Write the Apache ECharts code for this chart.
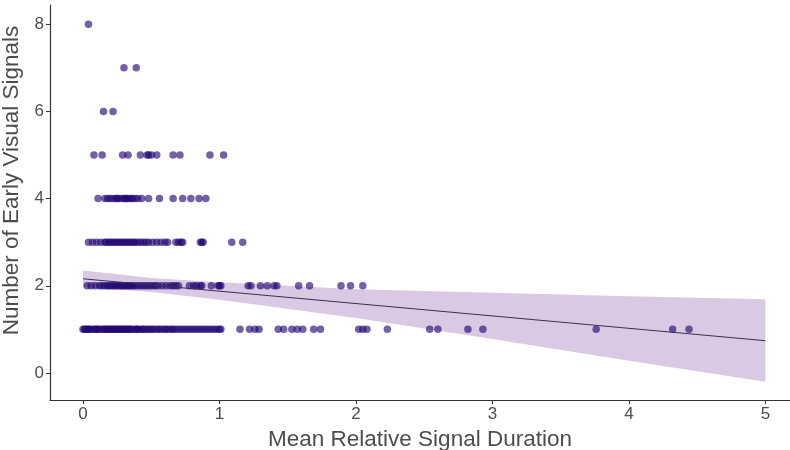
<!DOCTYPE html>
<html>
<head>
    <meta charset="utf-8">
    <title>Early visual signals</title>
    <script src="https://cdn.jsdelivr.net/npm/echarts@6/dist/echarts.min.js"></script>
</head>
<body style="margin:0;background:#fff;">
<style type="text/css">
.chart_box{width: 790px; height: 450px;}
</style>
    <div class="chart_box" id="main"></div>
    <script type="text/javascript">
        // x positions of the points, one list per count of early visual signals
        var row1 = [0.00, 0.01, 0.02, 0.03, 0.04, 0.05, 0.06, 0.08, 0.09, 0.10, 0.11, 0.12, 0.14, 0.15, 0.16, 0.17,
                    0.18, 0.19, 0.20, 0.21, 0.22, 0.23, 0.24, 0.25, 0.26, 0.27, 0.28, 0.29, 0.30, 0.31, 0.32, 0.33,
                    0.34, 0.35, 0.36, 0.38, 0.39, 0.40, 0.41, 0.43, 0.44, 0.45, 0.47, 0.48, 0.50, 0.51, 0.53, 0.55,
                    0.56, 0.58, 0.60, 0.61, 0.63, 0.65, 0.66, 0.68, 0.70, 0.72, 0.74, 0.76, 0.78, 0.80, 0.82, 0.84,
                    0.86, 0.88, 0.90, 0.92, 0.94, 0.96, 0.98, 1.00, 1.01,
                    1.15, 1.22, 1.26, 1.29, 1.43, 1.47, 1.53, 1.57, 1.61, 1.69, 1.74, 2.02, 2.05, 2.08, 2.23,
                    2.54, 2.60, 2.82, 2.93, 3.76, 4.32, 4.44];
        var row2 = [0.03, 0.06, 0.09, 0.12, 0.14, 0.16, 0.18, 0.19, 0.21, 0.22, 0.24, 0.25, 0.27, 0.28, 0.30, 0.31,
                    0.33, 0.34, 0.36, 0.37, 0.39, 0.41, 0.43, 0.45, 0.47, 0.49, 0.51, 0.53, 0.55, 0.58, 0.61, 0.64,
                    0.66, 0.68, 0.70, 0.78, 0.81, 0.83, 0.86, 0.87, 0.94, 0.99, 1.00, 1.01, 1.21, 1.23, 1.30, 1.35,
                    1.40, 1.42, 1.58, 1.66, 1.89, 1.96, 2.05];
        var row3 = [0.04, 0.07, 0.10, 0.13, 0.16, 0.17, 0.19, 0.20, 0.22, 0.23, 0.25, 0.26, 0.28, 0.29, 0.31, 0.32,
                    0.34, 0.35, 0.37, 0.38, 0.40, 0.42, 0.44, 0.46, 0.48, 0.51, 0.54, 0.57, 0.60, 0.62, 0.68, 0.70,
                    0.72, 0.73, 0.86, 0.87, 0.88, 1.09, 1.17];
        var row4 = [0.11, 0.16, 0.18, 0.20, 0.22, 0.24, 0.25, 0.26, 0.28, 0.30, 0.31, 0.32, 0.33, 0.35, 0.36, 0.38,
                    0.40, 0.43, 0.48, 0.56, 0.66, 0.73, 0.79, 0.85, 0.90];
        var row5 = [0.08, 0.14, 0.29, 0.33, 0.42, 0.47, 0.48, 0.50, 0.54, 0.66, 0.71, 0.93, 1.03];
        var row6 = [0.15, 0.22];
        var row7 = [0.30, 0.39];
        var row8 = [0.04];

        // fitted line and its confidence band
        var lineX = [0, 5];
        var lineY = [2.16, 0.74];
        var bandX  = [0, 0.5, 1, 2, 3, 4, 5];
        var bandLo = [1.97, 1.86, 1.68, 1.26, 0.78, 0.28, -0.20];
        var bandHi = [2.35, 2.18, 2.08, 1.92, 1.84, 1.76, 1.69];

        var xTicks = [0, 1, 2, 3, 4, 5];
        var yTicks = [0, 2, 4, 6, 8];

        var rows = [row1, row2, row3, row4, row5, row6, row7, row8];
        var points = [];
        for (var i = 0; i < rows.length; i++) {
            for (var j = 0; j < rows[i].length; j++) {
                points.push([rows[i][j], i + 1]);
            }
        }
        var lineData = [];
        for (var k = 0; k < lineX.length; k++) {
            lineData.push([lineX[k], lineY[k]]);
        }

        var textColor = '#4d4d4d';
        var font = 'Liberation Sans, Arial, sans-serif';
        var chart = echarts.init(document.getElementById('main'), null, {renderer: 'canvas'});
        chart.setOption({
            animation: false,
            grid: {left: 50, right: 0, top: 5, bottom: 50, outerBoundsMode: 'none', containLabel: false},
            xAxis: {
                type: 'value', min: -0.242, max: 5.18,
                name: 'Mean Relative Signal Duration', nameLocation: 'middle', nameGap: 25,
                nameTextStyle: {color: textColor, fontSize: 22.5, fontFamily: font},
                splitLine: {show: false},
                axisLine: {show: true, onZero: false, lineStyle: {color: '#333', width: 1.2}},
                axisTick: {show: true, length: 4, customValues: xTicks, lineStyle: {color: '#333'}},
                axisLabel: {customValues: xTicks, color: textColor, fontSize: 17, fontFamily: font, margin: 6}
            },
            yAxis: {
                type: 'value', min: -0.62, max: 8.44,
                name: 'Number of Early Visual Signals', nameLocation: 'middle', nameGap: 21,
                nameTextStyle: {color: textColor, fontSize: 22.5, fontFamily: font, padding: [0, 0, 0, 44]},
                splitLine: {show: false},
                axisLine: {show: true, onZero: false, lineStyle: {color: '#333', width: 1.2}},
                axisTick: {show: true, length: 4, customValues: yTicks, lineStyle: {color: '#333'}},
                axisLabel: {customValues: yTicks, color: textColor, fontSize: 17, fontFamily: font, margin: 6}
            },
            series: [{
                type: 'custom',
                silent: true,
                data: [[0, 0]],
                z: 1,
                renderItem: function (params, api) {
                    var pts = [];
                    for (var a = 0; a < bandX.length; a++) {
                        pts.push(api.coord([bandX[a], bandHi[a]]));
                    }
                    for (var b = bandX.length - 1; b >= 0; b--) {
                        pts.push(api.coord([bandX[b], bandLo[b]]));
                    }
                    return {type: 'polygon', shape: {points: pts}, style: {fill: '#d9c9e3'}};
                }
            }, {
                type: 'scatter',
                data: points,
                symbolSize: 7.5,
                z: 2,
                itemStyle: {color: 'rgba(35,8,115,0.8)'}
            }, {
                type: 'line',
                data: lineData,
                symbol: 'none',
                z: 3,
                lineStyle: {color: '#3a3050', width: 1}
            }]
        });
    </script>
</body>
</html>
